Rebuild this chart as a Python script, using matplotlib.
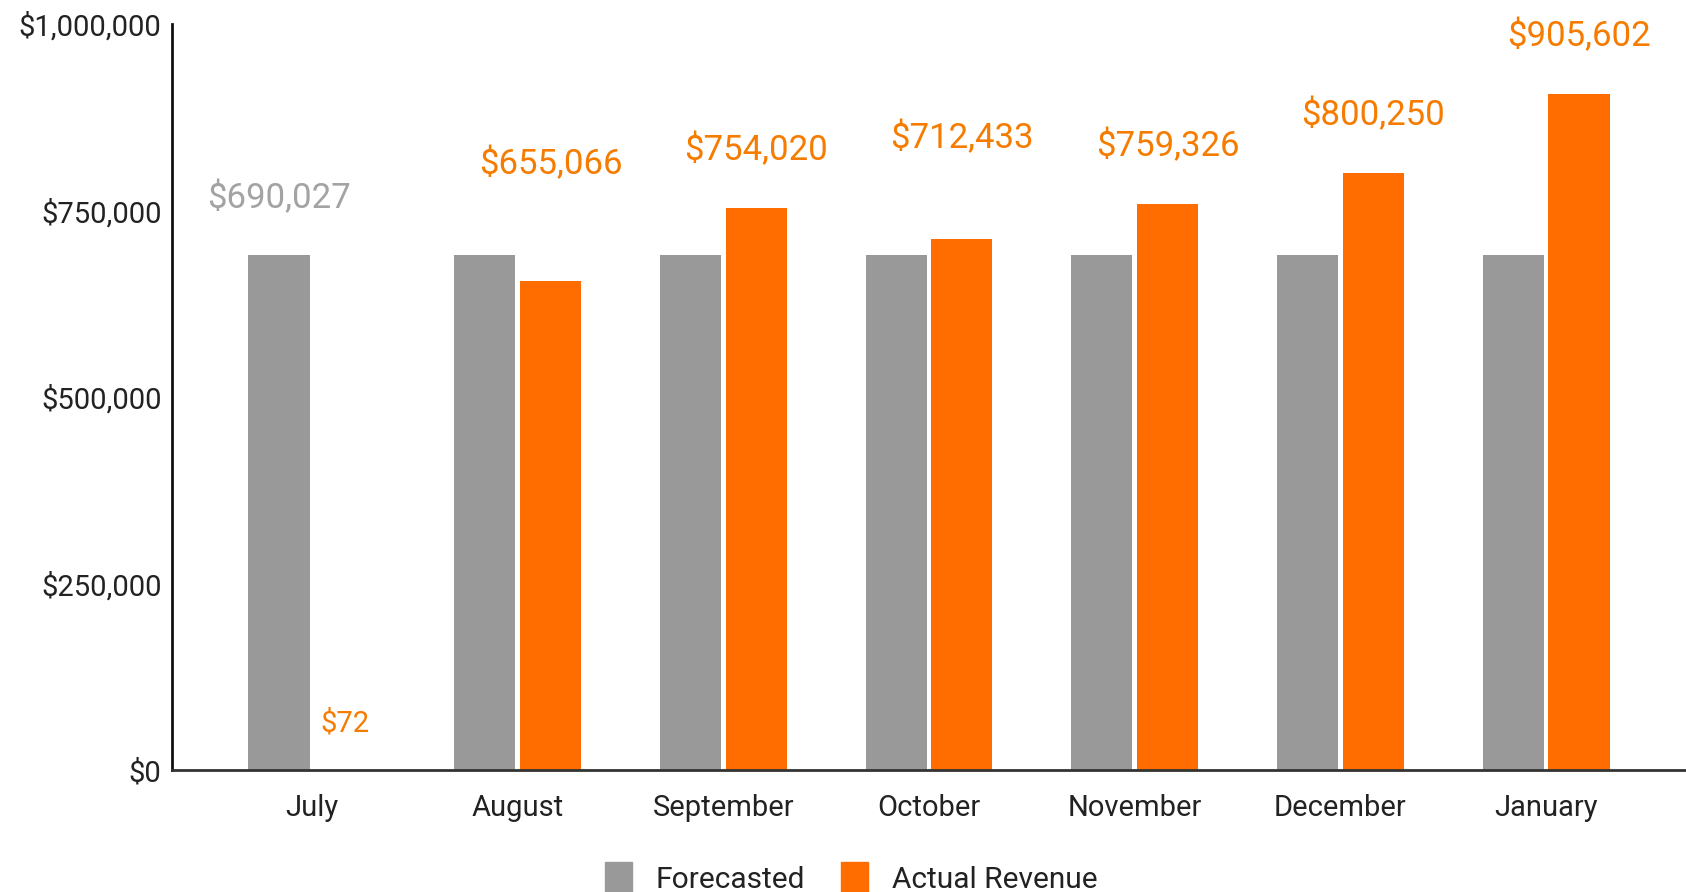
import numpy as np
from matplotlib import pyplot as plt
from matplotlib.patches import Patch
from matplotlib.ticker import FuncFormatter

plt.rcParams['font.family'] = ['Roboto', 'DejaVu Sans']

months = ['July', 'August', 'September', 'October', 'November', 'December', 'January']
forecasted = [690027, 690027, 690027, 690027, 690027, 690027, 690027]
actual = [72, 655066, 754020, 712433, 759326, 800250, 905602]
y_ticks = [0, 250000, 500000, 750000, 1000000]

# label gaps above bar tops (pixels) - chart tool shifted a couple of them up
actual_label_gap = [46, 117, 57, 100, 58, 58, 58]
forecast_label_gap = 57

GRAY = '#999999'
ORANGE = '#ff6d00'
GRAY_TXT = '#a3a3a3'
ORANGE_TXT = '#f57c00'

fig = plt.figure(figsize=(16.86, 8.92), dpi=100)
ax = fig.add_axes([172 / 1686, 1 - 770 / 892, 1 - 172 / 1686, (770 - 24) / 892])

x = np.arange(len(months))
w = 0.297
off = 0.16
b1 = ax.bar(x - off, forecasted, w, color=GRAY, zorder=2)
b2 = ax.bar(x + off, actual, w, color=ORANGE, zorder=2)

ax.annotate(f'${forecasted[0]:,}', (x[0] - off, forecasted[0]), xytext=(0, forecast_label_gap),
            textcoords='offset pixels', ha='center', va='center', fontsize=25, color=GRAY_TXT)
for i, v in enumerate(actual):
    ax.annotate(f'${v:,}', (x[i] + off, v), xytext=(0, actual_label_gap[i]),
                textcoords='offset pixels', ha='center', va='center',
                fontsize=25 if v > 1000 else 21, color=ORANGE_TXT)

ax.set_xlim(-0.68, len(months) - 1 + 0.68)
ax.set_ylim(0, 1000000)
ax.set_yticks(y_ticks)
ax.yaxis.set_major_formatter(FuncFormatter(lambda v, p: f'${int(v):,}'))
ax.set_xticks(x)
ax.set_xticklabels(months)
ax.tick_params(axis='y', length=0, pad=7.5, labelsize=21, labelcolor='#222222')
ax.tick_params(axis='x', length=0, pad=17, labelsize=21, labelcolor='#222222')

for s in ['top', 'right']:
    ax.spines[s].set_visible(False)
ax.spines['left'].set_color('#111111')
ax.spines['left'].set_linewidth(2)
ax.spines['bottom'].set_color('#333333')
ax.spines['bottom'].set_linewidth(2)
ax.spines['bottom'].set_zorder(3)

handles = [Patch(color=GRAY, label='Forecasted'), Patch(color=ORANGE, label='Actual Revenue')]
fig.legend(handles=handles, loc='center', bbox_to_anchor=(0.505, 1 - 878 / 892), ncol=2,
           frameon=False, fontsize=21.5, handlelength=0.9, handleheight=1.2,
           handletextpad=0.8, columnspacing=1.2, labelcolor='#222222')

fig.savefig('out.png', dpi=100)
